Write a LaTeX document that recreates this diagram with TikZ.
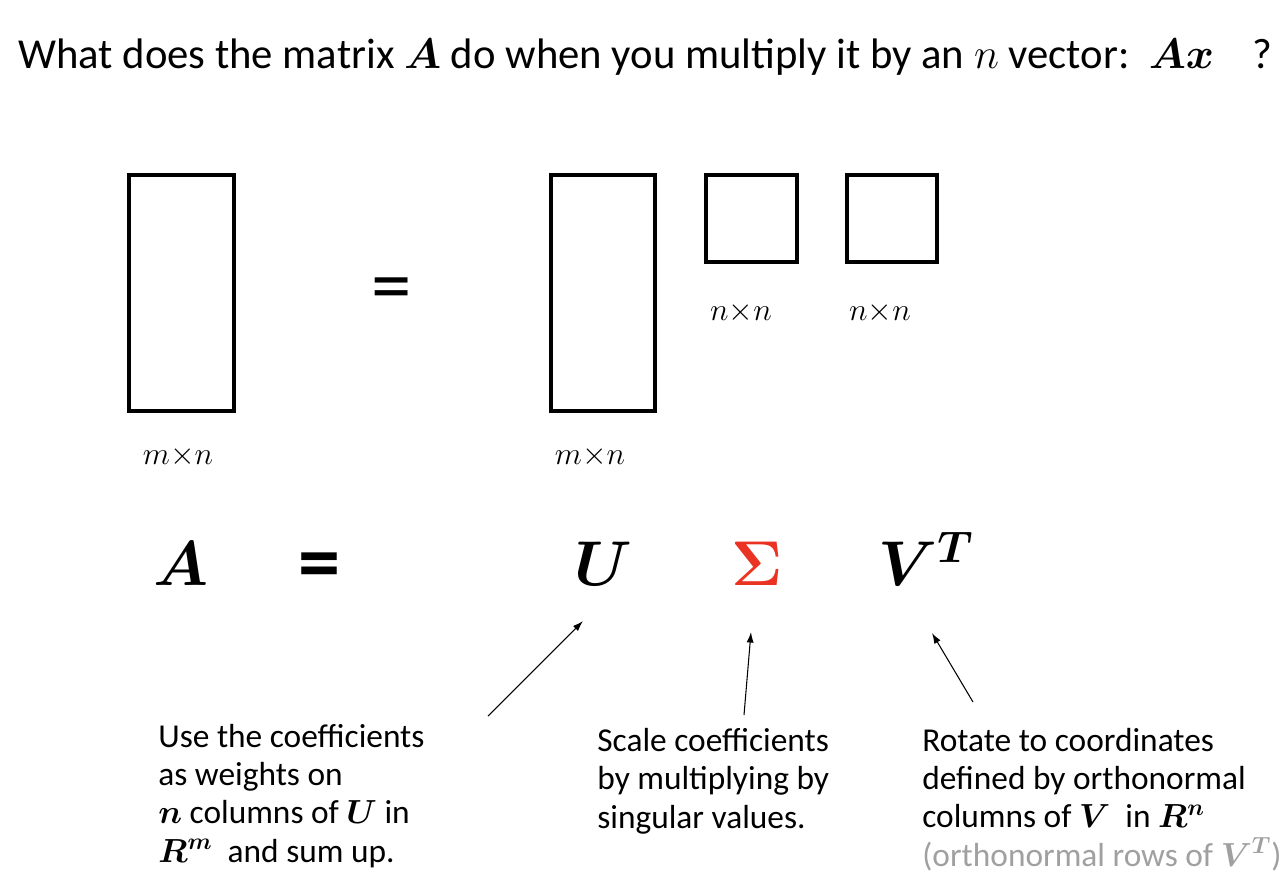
\RequirePackage{fix-cm}
\documentclass[tikz,border=0pt]{standalone}
\usepackage{fontspec}
\setmainfont{Carlito}
\usepackage{bm}
\usepackage{xcolor}
\usetikzlibrary{arrows.meta}
\definecolor{sigmared}{RGB}{234,51,35}
\definecolor{notegray}{RGB}{160,160,160}

\begin{document}
\begin{tikzpicture}[x=0.02cm, y=-0.02cm,
  box/.style={line width=2pt},
  pointer/.style={-{Latex[length=6pt,width=4pt]}, line width=0.6pt},
  bigsym/.style={anchor=base, inner sep=0pt, font=\fontsize{36}{40}\selectfont},
  dimlabel/.style={inner sep=0pt, font=\fontsize{18}{20}\selectfont},
  note/.style={align=left, anchor=base west, inner sep=0pt,
    font=\fontsize{19}{21.7}\selectfont}]
  \useasboundingbox (0,0) rectangle (1288,894);

  % Question
  \node[anchor=base west, inner sep=0pt, font=\fontsize{24.3}{28}\selectfont]
    (question) at (18,68)
    {What does the matrix $\bm{A}$ do when you multiply it by an $n$ vector:\ \ $\bm{Ax}$\ \ \ \ ?};

  % Matrix shapes
  \draw[box] (129,175) rectangle (234,411);
  \draw[box] (551,175) rectangle (655,411);
  \draw[box] (706,175) rectangle (797,262);
  \draw[box] (847,175) rectangle (937,262);
  \node[inner sep=0pt, font=\fontsize{46}{50}\selectfont] (eqShapes) at (392,295) {=};

  % Size labels
  \node[dimlabel] (dimA) at (178,457) {$m{\times}n$};
  \node[dimlabel] (dimU) at (590,457) {$m{\times}n$};
  \node[dimlabel] (dimSigma) at (741,313) {$n{\times}n$};
  \node[dimlabel] (dimV) at (880,313) {$n{\times}n$};

  % Factor letters
  \node[bigsym] (symA) at (181,585) {$\bm{A}$};
  \node[inner sep=0pt, font=\fontsize{48}{52}\selectfont\bfseries] (eqSyms) at (319,572) {=};
  \node[bigsym] (symU) at (603,585) {$\bm{U}$};
  \node[bigsym, text=sigmared] (symSigma) at (757,585) {$\bm{\Sigma}$};
  \node[bigsym, anchor=base west] (symV) at (878,585) {$\bm{V^T}$};

  % Pointers
  \coordinate (uTail) at (488,716);
  \coordinate (uHead) at (583,621);
  \coordinate (sigmaTail) at (744,715);
  \coordinate (sigmaHead) at (751,632);
  \coordinate (vTail) at (973,702);
  \coordinate (vHead) at (932,633);
  \draw[pointer] (uTail) -- (uHead);
  \draw[pointer] (sigmaTail) -- (sigmaHead);
  \draw[pointer] (vTail) -- (vHead);

  % Notes (base = last line)
  \node[note] (noteU) at (158,862)
    {Use the coefficients\\as weights on\\$\bm{n}$ columns of $\bm{U}$ in\\$\bm{R^m}$~ and sum up.};
  \node[note] (noteSigma) at (597,828)
    {Scale coefficients\\by multiplying by\\singular values.};
  \node[note] (noteV) at (922,866)
    {Rotate to coordinates\\defined by orthonormal\\columns of $\bm{V}$~ in $\bm{R^n}$\\\textcolor{notegray}{(orthonormal rows of $\bm{V^T}$)}};
\end{tikzpicture}
\end{document}
